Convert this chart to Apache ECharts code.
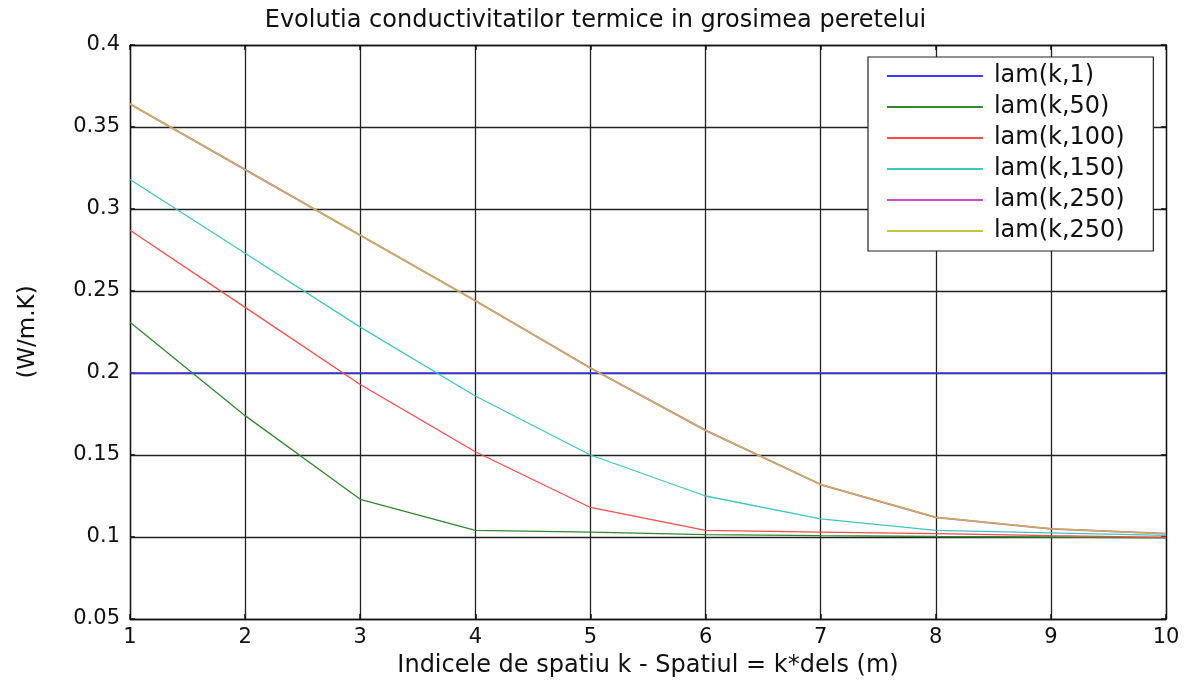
<!DOCTYPE html>
<html>
<head>
<meta charset="utf-8">
<script src="https://cdn.jsdelivr.net/npm/echarts@6/dist/echarts.min.js"></script>
<style>
  html, body { margin: 0; padding: 0; background: #fff; }
  #chart { width: 1191px; height: 683px; }
</style>
</head>
<body>
<div id="chart"></div>
<script>
// Spatial index k along the wall thickness
const kValues = [1, 2, 3, 4, 5, 6, 7, 8, 9, 10];

// Thermal conductivity profiles (W/m.K) at successive time steps
const lam1   = [0.2, 0.2, 0.2, 0.2, 0.2, 0.2, 0.2, 0.2, 0.2, 0.2];
const lam50  = [0.231, 0.174, 0.123, 0.104, 0.103, 0.1015, 0.1008, 0.1003, 0.1, 0.0995];
const lam100 = [0.287, 0.240, 0.193, 0.152, 0.118, 0.104, 0.103, 0.102, 0.1008, 0.0998];
const lam150 = [0.318, 0.273, 0.228, 0.186, 0.150, 0.125, 0.111, 0.104, 0.1025, 0.101];
const lam250 = [0.364, 0.324, 0.284, 0.244, 0.203, 0.165, 0.132, 0.112, 0.105, 0.102];

const yTicks = { min: 0.05, max: 0.4, step: 0.05 };
const xTicks = { min: 1, max: 10, step: 1 };

// The last two profiles coincide; the yellow one is drawn over the magenta one
const seriesDefs = [
  { name: 'lam(k,1)',    values: lam1,   color: '#3a3aff', width: 1.3 },
  { name: 'lam(k,50)',   values: lam50,  color: '#2f8a2f', width: 1.3 },
  { name: 'lam(k,100)',  values: lam100, color: '#ff4a4a', width: 1.3 },
  { name: 'lam(k,150)',  values: lam150, color: '#3cc6c6', width: 1.3 },
  { name: 'lam(k,250)',  values: lam250, color: '#cc4ccc', width: 1.8 },
  { name: 'lam(k,250) ', values: lam250, color: '#c4c43a', width: 1.6, opacity: 0.85 }
];

const pair = (vals) => kValues.map((k, i) => [k, vals[i]]);

const chart = echarts.init(document.getElementById('chart'));

const wideFont = 'DejaVu Sans, Verdana, sans-serif';
const tickFont = { fontFamily: wideFont, fontSize: 21, color: '#111' };

const gridLine = { show: true, lineStyle: { color: '#222', width: 1.3 } };
const frameLine = { show: true, lineStyle: { color: '#111', width: 1.3 } };
const innerTick = { show: true, inside: true, length: 5, lineStyle: { color: '#111', width: 1.5 } };

chart.setOption({
  backgroundColor: '#fff',
  animation: false,
  title: {
    text: 'Evolutia conductivitatilor termice in grosimea peretelui',
    left: 'center',
    top: 4,
    textStyle: { fontFamily: wideFont, fontSize: 24, fontWeight: 'normal', color: '#111' }
  },
  legend: {
    orient: 'vertical',
    left: 868,
    top: 57,
    padding: [7, 21, 8, 18],
    backgroundColor: '#fff',
    borderColor: '#222',
    borderWidth: 1.2,
    itemWidth: 96,
    itemHeight: 14,
    itemGap: 7,
    itemStyle: { opacity: 0 },
    data: seriesDefs.map(s => ({ name: s.name, lineStyle: { opacity: 1, width: 1.8 } })),
    textStyle: { fontFamily: wideFont, fontSize: 24, color: '#111', padding: [0, 0, 0, 6] }
  },
  grid: { left: 130, right: 25, top: 45, bottom: 62, containLabel: false },
  xAxis: [
    {
      type: 'value',
      min: xTicks.min, max: xTicks.max, interval: xTicks.step,
      name: 'Indicele de spatiu k - Spatiul = k*dels (m)',
      nameLocation: 'middle',
      nameGap: 35,
      nameTextStyle: { fontFamily: wideFont, fontSize: 24, color: '#111' },
      axisLine: frameLine,
      axisTick: innerTick,
      axisLabel: Object.assign({ margin: 8 }, tickFont),
      splitLine: gridLine
    },
    {
      type: 'value', position: 'top',
      min: xTicks.min, max: xTicks.max, interval: xTicks.step,
      axisLine: frameLine,
      axisTick: innerTick,
      axisLabel: { show: false },
      splitLine: { show: false }
    }
  ],
  yAxis: [
    {
      type: 'value',
      min: yTicks.min, max: yTicks.max, interval: yTicks.step,
      name: '(W/m.K)',
      nameLocation: 'middle',
      nameGap: 90,
      nameRotate: 90,
      nameTextStyle: { fontFamily: wideFont, fontSize: 23, color: '#111' },
      axisLine: frameLine,
      axisTick: innerTick,
      axisLabel: Object.assign({ margin: 10, formatter: v => String(+v.toFixed(2)) }, tickFont),
      splitLine: gridLine
    },
    {
      type: 'value', position: 'right',
      min: yTicks.min, max: yTicks.max, interval: yTicks.step,
      axisLine: frameLine,
      axisTick: innerTick,
      axisLabel: { show: false },
      splitLine: { show: false }
    }
  ],
  series: seriesDefs.map(s => ({
    name: s.name,
    type: 'line',
    data: pair(s.values),
    symbol: 'none',
    smooth: false,
    color: s.color,
    lineStyle: { color: s.color, width: s.width, opacity: s.opacity == null ? 1 : s.opacity },
    emphasis: { disabled: true }
  }))
});
</script>
</body>
</html>
